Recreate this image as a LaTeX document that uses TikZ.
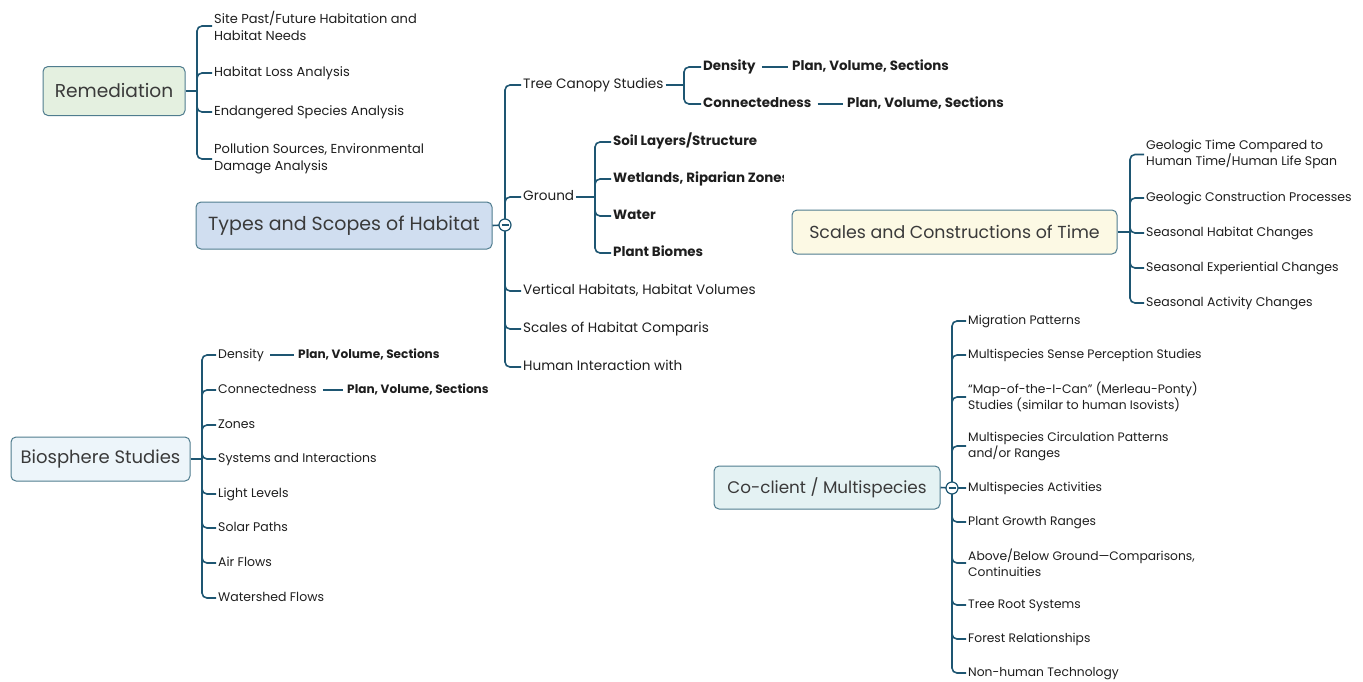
\documentclass[tikz,border=0pt]{standalone}
\usepackage{fontspec}
\setmainfont{Poppins}
\usetikzlibrary{calc}
\definecolor{ln}{HTML}{1E5672}
\definecolor{bd}{HTML}{4F7C8E}
\definecolor{tx}{HTML}{3A3A3A}
\definecolor{lf}{HTML}{1E1E1E}
\definecolor{remfill}{HTML}{E4F0E0}
\definecolor{typfill}{HTML}{D0DEF0}
\definecolor{timfill}{HTML}{FCF9E4}
\definecolor{biofill}{HTML}{EDF5FA}
\definecolor{cofill}{HTML}{E4F2F3}
\tikzset{
  topic/.style={draw=bd, line width=1pt, rounded corners=5pt, text=tx, inner sep=0pt},
  conn/.style={draw=ln, line width=1.6pt, rounded corners=5pt},
  leaf/.style={anchor=west, inner xsep=2pt, inner ysep=1pt, align=left, text=lf, yshift=-1pt},
  sl/.style={text height=0.64em, text depth=0pt},
  fA/.style={font=\fontsize{13}{17}\selectfont},
  fB/.style={font=\fontsize{13.6}{18}\selectfont},
  fC/.style={font=\fontsize{12.5}{16}\selectfont},
  fD/.style={font=\fontsize{12.3}{16}\selectfont},
  bA/.style={font=\fontsize{13.4}{17}\selectfont\bfseries},
  bC/.style={font=\fontsize{12.1}{16}\selectfont\bfseries},
  minus/.style={circle, draw=ln, fill=white, line width=1.2pt, minimum size=12pt, inner sep=0pt}
}
\begin{document}
\begin{tikzpicture}[x=1pt, y=-1pt]
\useasboundingbox (0,0) rectangle (1363,681);

% ---------------- Remediation
\node[topic, fill=remfill, minimum width=142pt, minimum height=49pt, font=\fontsize{18.6}{22}\selectfont] (rem) at (114,91) {Remediation};
\node[leaf, fA] (r1) at (212,25) {Site Past/Future Habitation and\\Habitat Needs};
\node[leaf, fA, sl] (r2) at (212,72) {Habitat Loss Analysis};
\node[leaf, fA, sl] (r3) at (212,111) {Endangered Species Analysis};
\node[leaf, fA] (r4) at (212,158) {Pollution Sources, Environmental\\Damage Analysis};
\coordinate (remT) at (197,91);
\draw[conn] (rem.east) -- (remT);
\foreach \c in {r1,r2,r3,r4} \draw[conn] (remT) |- (\c.west);

% ---------------- Types and Scopes of Habitat
\node[topic, fill=typfill, minimum width=296pt, minimum height=47pt, font=\fontsize{19}{22}\selectfont] (typ) at (344,225.5) {Types and Scopes of Habitat};
\node[leaf, fB, sl] (t1) at (521,84) {Tree Canopy Studies};
\node[leaf, fB, sl] (t2) at (521,196) {Ground};
\node[leaf, fB, sl] (t3) at (521,290) {Vertical Habitats, Habitat Volumes};
\node[leaf, fB, sl] (t4) at (521,328) {Scales of Habitat Comparis};
\node[leaf, fB, sl] (t5) at (521,366) {Human Interaction with};
\coordinate (typT) at (505,225);
\draw[conn] (typ.east) -- (typT);
\foreach \c in {t1,t2,t3,t4,t5} \draw[conn] (typT) |- (\c.west);
\node[minus] (typM) at (typT) {};
\draw[ln, line width=1.2pt] ([xshift=-3.5pt]typM.center) -- ([xshift=3.5pt]typM.center);

% Tree canopy
\node[leaf, bA, sl] (tc1) at (701,66) {Density};
\node[leaf, bA, sl] (tc2) at (701,103) {Connectedness};
\node[leaf, bA, sl] (tp1) at (790,66) {Plan, Volume, Sections};
\node[leaf, bA, sl] (tp2) at (845,103) {Plan, Volume, Sections};
\coordinate (tcT) at (684,85);
\draw[conn] (t1.east) -- (tcT);
\foreach \c in {tc1,tc2} \draw[conn] (tcT) |- (\c.west);
\draw[conn] ([xshift=4pt]tc1.east) -- ([xshift=-2pt]tp1.west);
\draw[conn] ([xshift=4pt]tc2.east) -- ([xshift=-2pt]tp2.west);

% Ground
\node[leaf, bA, sl] (g1) at (611,141) {Soil Layers/Structure};
\begin{scope}
\clip (600,160) rectangle (783,200);
\node[leaf, bA, sl] (g2) at (611,178) {Wetlands, Riparian Zones};
\end{scope}
\node[leaf, bA, sl] (g3) at (611,215) {Water};
\node[leaf, bA, sl] (g4) at (611,252) {Plant Biomes};
\coordinate (gT) at (595,197);
\draw[conn] (t2.east) -- (gT);
\foreach \c in {g1,g2,g3,g4} \draw[conn] (gT) |- (\c.west);

% ---------------- Scales and Constructions of Time
\node[topic, fill=timfill, minimum width=325pt, minimum height=44pt, font=\fontsize{17.4}{22}\selectfont] (tim) at (954.5,232) {Scales and Constructions of Time};
\node[leaf, fC] (s1) at (1144,153.5) {Geologic Time Compared to\\Human Time/Human Life Span};
\node[leaf, fC, sl] (s2) at (1144,197) {Geologic Construction Processes};
\node[leaf, fC, sl] (s3) at (1144,232) {Seasonal Habitat Changes};
\node[leaf, fC, sl] (s4) at (1144,267) {Seasonal Experiential Changes};
\node[leaf, fC, sl] (s5) at (1144,302) {Seasonal Activity Changes};
\coordinate (timT) at (1130,232);
\draw[conn] (tim.east) -- (timT);
\foreach \c in {s1,s2,s3,s4,s5} \draw[conn] (timT) |- (\c.west);

% ---------------- Biosphere Studies
\node[topic, fill=biofill, minimum width=179pt, minimum height=44pt, font=\fontsize{18}{22}\selectfont] (bio) at (100.5,459) {Biosphere Studies};
\node[leaf, fC, sl] (b1) at (216,354) {Density};
\node[leaf, fC, sl] (b2) at (216,389) {Connectedness};
\node[leaf, fC, sl] (b3) at (216,424) {Zones};
\node[leaf, fC, sl] (b4) at (216,458) {Systems and Interactions};
\node[leaf, fC, sl] (b5) at (216,493) {Light Levels};
\node[leaf, fC, sl] (b6) at (216,527) {Solar Paths};
\node[leaf, fC, sl] (b7) at (216,562) {Air Flows};
\node[leaf, fC, sl] (b8) at (216,597) {Watershed Flows};
\node[leaf, bC, sl] (bp1) at (296,354) {Plan, Volume, Sections};
\node[leaf, bC, sl] (bp2) at (345,389) {Plan, Volume, Sections};
\coordinate (bioT) at (202,459);
\draw[conn] (bio.east) -- (bioT);
\foreach \c in {b1,b2,b3,b4,b5,b6,b7,b8} \draw[conn] (bioT) |- (\c.west);
\draw[conn] ([xshift=4pt]b1.east) -- ([xshift=-2pt]bp1.west);
\draw[conn] ([xshift=4pt]b2.east) -- ([xshift=-2pt]bp2.west);

% ---------------- Co-client / Multispecies
\node[topic, fill=cofill, minimum width=226pt, minimum height=43pt, font=\fontsize{16.8}{22}\selectfont] (co) at (827,487.5) {Co-client / Multispecies};
\node[leaf, fD, sl] (c1) at (966,320) {Migration Patterns};
\node[leaf, fD, sl] (c2) at (966,354) {Multispecies Sense Perception Studies};
\node[leaf, fD] (c3) at (966,396) {“Map-of-the-I-Can” (Merleau-Ponty)\\Studies (similar to human Isovists)};
\node[leaf, fD] (c4) at (966,445) {Multispecies Circulation Patterns\\and/or Ranges};
\node[leaf, fD, sl] (c5) at (966,487) {Multispecies Activities};
\node[leaf, fD, sl] (c6) at (966,521) {Plant Growth Ranges};
\node[leaf, fD] (c7) at (966,562) {Above/Below Ground—Comparisons,\\Continuities};
\node[leaf, fD, sl] (c8) at (966,604) {Tree Root Systems};
\node[leaf, fD, sl] (c9) at (966,638) {Forest Relationships};
\node[leaf, fD, sl] (c10) at (966,672) {Non-human Technology};
\coordinate (coT) at (952,488);
\draw[conn] (co.east) -- (coT);
\foreach \c in {c1,c2,c3,c4,c5,c6,c7,c8,c9,c10} \draw[conn] (coT) |- (\c.west);
\node[minus] (coM) at (coT) {};
\draw[ln, line width=1.2pt] ([xshift=-3.5pt]coM.center) -- ([xshift=3.5pt]coM.center);
\end{tikzpicture}
\end{document}
